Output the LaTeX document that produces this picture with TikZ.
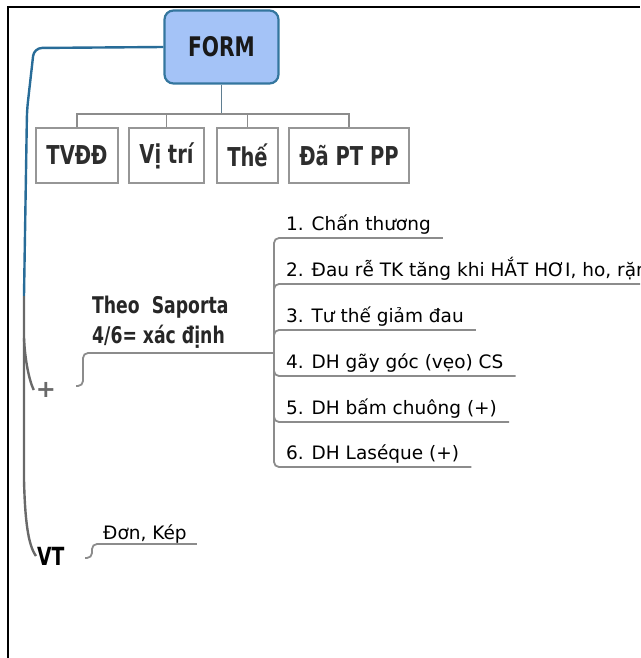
\documentclass[tikz,border=0pt]{standalone}
\usepackage{fontspec}
\setmainfont{DejaVu Sans}
\newfontfamily\condfont{DejaVu Sans}[FakeStretch=0.75]
\usepackage{tikz}

\definecolor{formfill}{RGB}{164,195,247}
\definecolor{formedge}{RGB}{52,118,158}
\definecolor{trunkblue}{RGB}{40,108,152}
\definecolor{trunkgrey}{RGB}{105,105,105}
\definecolor{linkgrey}{RGB}{140,140,140}
\definecolor{boxgrey}{RGB}{150,150,150}
\definecolor{inkgrey}{RGB}{45,45,45}

\tikzset{
  formbox/.style={draw=formedge, fill=formfill, line width=2.2pt, rounded corners=9pt,
    minimum width=114pt, minimum height=73pt,
    font=\condfont\bfseries\fontsize{27}{27}\selectfont, text=black!90},
  subbox/.style={draw=boxgrey, fill=white, line width=2pt, minimum height=55pt, inner xsep=10pt,
    font=\condfont\bfseries\fontsize{26}{26}\selectfont, text=inkgrey},
  item/.style={anchor=south west, inner xsep=12pt, inner ysep=3pt, text depth=4pt,
    font=\fontsize{18.5}{18.5}\selectfont, text=black},
  link/.style={draw=linkgrey, line width=1.8pt, rounded corners=5pt},
  trunk/.style={line width=2.4pt},
  frameline/.style={line width=2.2pt}
}

\begin{document}
\begin{tikzpicture}[x=1pt,y=-1pt]
\useasboundingbox (0,0) rectangle (640,658);
\clip (0,0) rectangle (640,658);

\draw [frameline] (8,658) -- (8,7) -- (640,7);

\node (form) at (221.5,47) [formbox] {FORM};

\node (tvdd) at (77,155.5) [subbox] {TVĐĐ};
\node (vitri) at (166.5,155.5) [subbox] {Vị trí};
\node (the) at (247.5,155.5) [subbox] {Thế};
\node (dapt) at (349,155.5) [subbox] {Đã PT PP};

\coordinate (bar) at (221.5,114);
\draw [line width=1.8pt, linkgrey!55!trunkblue] (form.south) -- (bar);
\draw [link, sharp corners] (tvdd.north) |- (bar) -| (dapt.north);
\draw [link] (vitri.north) -- (vitri.north |- bar);
\draw [link] (the.north) -- (the.north |- bar);

\node (plus) at (46,390) [inner sep=2pt, text=trunkgrey, font=\bfseries\fontsize{24}{24}\selectfont] {+};
\node (vt) at (36,556) [anchor=west, inner sep=1pt, font=\condfont\bfseries\fontsize{25}{25}\selectfont] {VT};

\coordinate (bend) at (24,296);
\coordinate (split) at (24,338);
\draw [trunk, trunkblue, rounded corners=8pt] (form.west) -- (34,48) -- (27,110) -- (bend);
\draw [trunk, trunkgrey] (bend) -- (24,480) .. controls (25,520) and (28,545) .. (vt.west);
\draw [trunk, trunkgrey] (split) .. controls (25,360) and (29,380) .. (plus.west);

\node (saporta) at (92,296) [anchor=north west, inner sep=0pt, align=left,
  font=\condfont\bfseries\fontsize{23}{30}\selectfont, text=black!85] {Theo\ \ Saporta\\4/6= xác định};

\coordinate (plushook) at (76,386);
\coordinate (fork) at (274,353);
\draw [link] (plushook) -- (83,386) -- (83,353) -- (fork);

\node (c1) at (274,238) [item] {1. Chấn thương};
\node (c2) at (274,284) [item] {2. Đau rễ TK tăng khi HẮT HƠI, ho, rặn};
\node (c3) at (274,330) [item] {3. Tư thế giảm đau};
\node (c4) at (274,376) [item] {4. DH gãy góc (vẹo) CS};
\node (c5) at (274,422) [item] {5. DH bấm chuông (+)};
\node (c6) at (274,467) [item] {6. DH Laséque (+)};

\draw [link] (fork) |- (c1.south east);
\draw [link] (fork) |- (c2.south east);
\draw [link] (fork) |- (c3.south east);
\draw [link] (fork) |- (c4.south east);
\draw [link] (fork) |- (c5.south east);
\draw [link] (fork) |- (c6.south east);

\node (dk) at (93,544) [item, inner xsep=10pt, inner ysep=1pt, text depth=3pt] {Đơn, Kép};
\coordinate (vthook) at (85,558);
\draw [link] (vthook) -| (92,544) -- (dk.south east);

\end{tikzpicture}
\end{document}
